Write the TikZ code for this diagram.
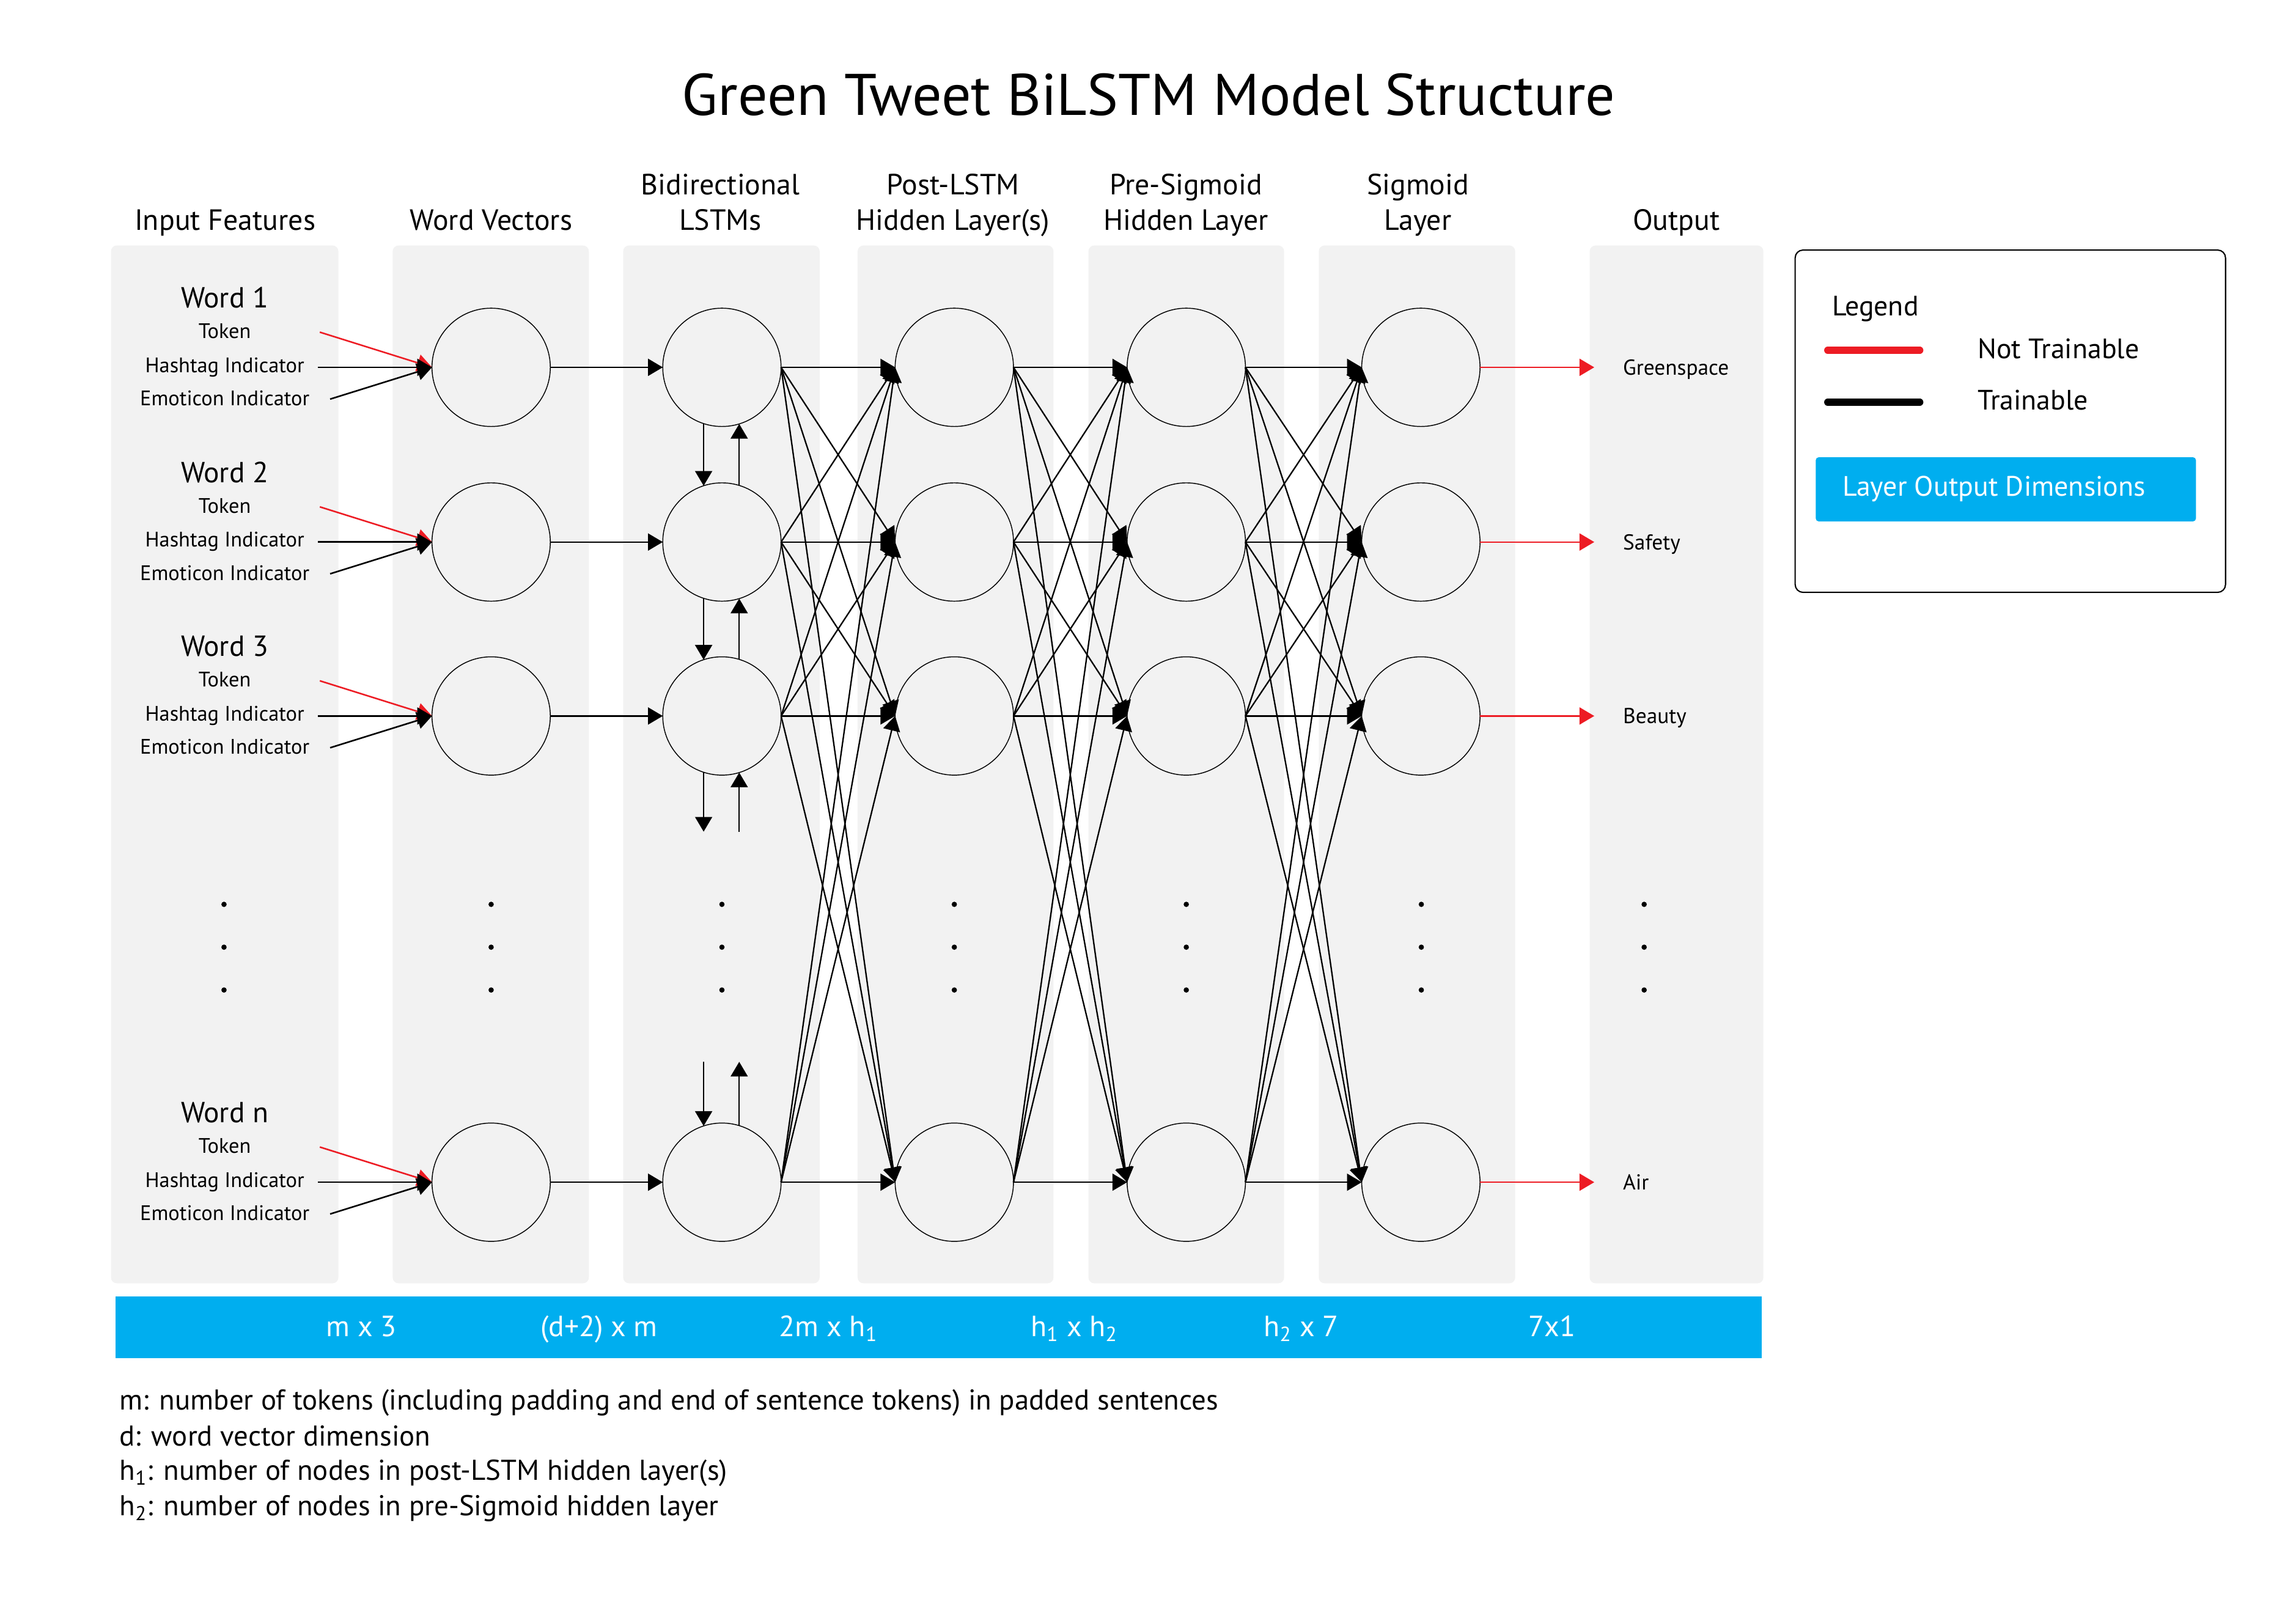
\documentclass[tikz,border=0pt]{standalone}
\usepackage{fontspec}
\setmainfont{PT Sans}
\usetikzlibrary{arrows.meta}

\definecolor{panelgray}{HTML}{F2F2F2}
\definecolor{dimblue}{HTML}{00AEEF}
\definecolor{fixedred}{HTML}{ED1C24}

\tikzset{every picture/.style={line width=0.75pt}}
\tikzset{
  neuron/.style={circle, draw, line width=0.45pt, fill=panelgray, minimum size=60.3pt, inner sep=0pt, outer sep=0pt},
  link/.style={-{Triangle[length=7.5pt,width=8.7pt]}, line width=0.72pt},
  inlink/.style={link, line width=0.8pt},
  redlink/.style={inlink, color=fixedred},
  titletxt/.style={font=\fontsize{29.9}{36}\selectfont, anchor=base, inner sep=0pt},
  hdr/.style={font=\fontsize{14.9}{18.15}\selectfont, align=center, anchor=base, inner sep=0pt},
  wordtxt/.style={font=\fontsize{14.8}{17}\selectfont, anchor=base, inner sep=0pt},
  feattxt/.style={font=\fontsize{10.7}{12}\selectfont, anchor=base, inner sep=0pt},
  outtxt/.style={font=\fontsize{11}{13}\selectfont, anchor=base west, inner sep=0pt},
  dimtxt/.style={font=\fontsize{14.9}{17}\selectfont, text=white, anchor=base, inner sep=0pt},
  notetxt/.style={font=\fontsize{14.6}{17}\selectfont, anchor=base west, inner sep=0pt},
  legtxt/.style={font=\fontsize{14.3}{17}\selectfont, anchor=base west, inner sep=0pt}
}

\begin{document}
\begin{tikzpicture}[x=0.75pt,y=0.75pt,yscale=-1,xscale=1]
    \useasboundingbox (0,0) rectangle (1560,1086.5);

    % Layer panels
    \foreach \l/\r in {75.4/229.9, 266.8/400.1, 423.4/556.9, 582.7/715.8, 739.5/872.5, 896/1029.5, 1080.1/1198.1}
      \fill[panelgray, rounded corners=3pt] (\l,166.8) rectangle (\r,872);

    % Text Node
    \draw (780.5,78.2) node [titletxt] (title) {Green Tweet BiLSTM Model Structure};
    % Text Node
    \draw (152.9,156.4) node [hdr] (hdin) {Input Features};
    % Text Node
    \draw (333.7,156.4) node [hdr] (hdwv) {Word Vectors};
    % Text Node
    \draw (489.5,156.4) node [hdr] (hdls) {Bidirectional\\LSTMs};
    % Text Node
    \draw (647.5,156.4) node [hdr] (hdph) {Post-LSTM\\Hidden Layer(s)};
    % Text Node
    \draw (805.8,156.4) node [hdr] (hdps) {Pre-Sigmoid\\Hidden Layer};
    % Text Node
    \draw (963.4,156.4) node [hdr] (hdsg) {Sigmoid\\Layer};
    % Text Node
    \draw (1139,156.4) node [hdr] (hdout) {Output};

    % Word rows: input features and neurons
    \foreach \i/\c/\w in {1/249.6/1, 2/368.3/2, 3/486.5/3, 4/803.3/n} {
      \node [wordtxt] (word\i) at (152.7,\c-40.6) {Word \w};
      \node [feattxt] (tok\i) at (152.7,\c-19.8) {Token};
      \node [feattxt] (hash\i) at (152.7,\c+3.4) {Hashtag Indicator};
      \node [feattxt] (emo\i) at (152.7,\c+25.9) {Emoticon Indicator};
      \coordinate (tokin\i) at (217.3,\c-23.9);
      \coordinate (hashin\i) at (216,\c);
      \coordinate (emoin\i) at (224.3,\c+21.6);
      \coordinate (tip\i) at (1083.2,\c);
      \node [neuron] (wv\i) at (333.7,\c) {};
      \node [neuron] (ls\i) at (490.5,\c) {};
      \node [neuron] (ph\i) at (648.4,\c) {};
      \node [neuron] (ps\i) at (806,\c) {};
      \node [neuron] (sg\i) at (965.4,\c) {};
    }

    % Text Node
    \draw (1102.3,254.8) node [outtxt] (out1) {Greenspace};
    % Text Node
    \draw (1102.3,373.5) node [outtxt] (out2) {Safety};
    % Text Node
    \draw (1102.3,491.7) node [outtxt] (out3) {Beauty};
    % Text Node
    \draw (1102.3,808.5) node [outtxt] (out4) {Air};

    % Vertical dots
    \foreach \x in {152.2, 333.7, 490.5, 648.4, 806, 965.7, 1117.1}
      \foreach \y in {614.5, 643.6, 672.7}
        \fill (\x,\y) circle [radius=1.8];

    % Inputs into word vectors
    \foreach \i in {1,...,4} {
      \draw [redlink] (tokin\i) -- (wv\i.west);
      \draw [inlink] (hashin\i) -- (wv\i.west);
      \draw [inlink] (emoin\i) -- (wv\i.west);
      \draw [link] (wv\i.east) -- (ls\i.west);
      \draw [link, color=fixedred] (sg\i.east) -- (tip\i);
    }

    % LSTM recurrence
    \coordinate (lsgapa) at (490.5,565.1);
    \coordinate (lsgapb) at (490.5,721.5);
    \draw [link] (ls1.252) -- (ls2.108);
    \draw [link] (ls2.73) -- (ls1.287);
    \draw [link] (ls2.252) -- (ls3.108);
    \draw [link] (ls3.73) -- (ls2.287);
    \draw [link] (ls3.252) -- (ls3.252 |- lsgapa);
    \draw [link] (ls3.287 |- lsgapa) -- (ls3.287);
    \draw [link] (ls4.108 |- lsgapb) -- (ls4.108);
    \draw [link] (ls4.73) -- (ls4.73 |- lsgapb);

    % Dense connections
    \foreach \i in {1,...,4}
      \foreach \j in {1,...,4} {
        \draw [link] (ls\i.east) -- (ph\j.west);
        \draw [link] (ph\i.east) -- (ps\j.west);
        \draw [link] (ps\i.east) -- (sg\j.west);
      }

    % Output dimensions bar
    \fill [dimblue] (78.6,880.9) rectangle (1197,922.7);
    % Text Node
    \draw (245.5,908.2) node [dimtxt] (dim1) {m x 3};
    % Text Node
    \draw (407,908.2) node [dimtxt] (dim2) {(d+2) x m};
    % Text Node
    \draw (562.9,908.2) node [dimtxt] (dim3) {2m x h\textsubscript{1}};
    % Text Node
    \draw (729.9,908.2) node [dimtxt] (dim4) {h\textsubscript{1} x h\textsubscript{2}};
    % Text Node
    \draw (884.1,908.2) node [dimtxt] (dim5) {h\textsubscript{2} x 7};
    % Text Node
    \draw (1054.6,908.2) node [dimtxt] (dim6) {7x1};

    % Text Node
    \draw (80.8,958) node [notetxt] (note1) {m: number of tokens (including padding and end of sentence tokens) in padded sentences};
    % Text Node
    \draw (80.8,982.3) node [notetxt] (note2) {d: word vector dimension};
    % Text Node
    \draw (80.8,1005.8) node [notetxt] (note3) {h\textsubscript{1}: number of nodes in post-LSTM hidden layer(s)};
    % Text Node
    \draw (80.8,1030) node [notetxt] (note4) {h\textsubscript{2}: number of nodes in pre-Sigmoid hidden layer};

    % Legend
    \draw [line width=0.65pt, rounded corners=4pt] (1219.7,169.9) rectangle (1512.1,402.5);
    \draw (1244.3,214.7) node [legtxt] (leg) {Legend};
    \draw [fixedred, line width=3.6pt, line cap=round] (1241.8,238) -- (1304.4,238);
    \draw [line width=3.6pt, line cap=round] (1241.8,273.3) -- (1304.4,273.3);
    \draw (1343.3,243.5) node [legtxt] (legnot) {Not Trainable};
    \draw (1343.3,278.5) node [legtxt] (legtr) {Trainable};
    \fill [dimblue, rounded corners=1.5pt] (1233.7,310.7) rectangle (1492,354.3);
    \draw (1251.4,337) node [legtxt, text=white] (legdim) {Layer Output Dimensions};

\end{tikzpicture}
\end{document}
